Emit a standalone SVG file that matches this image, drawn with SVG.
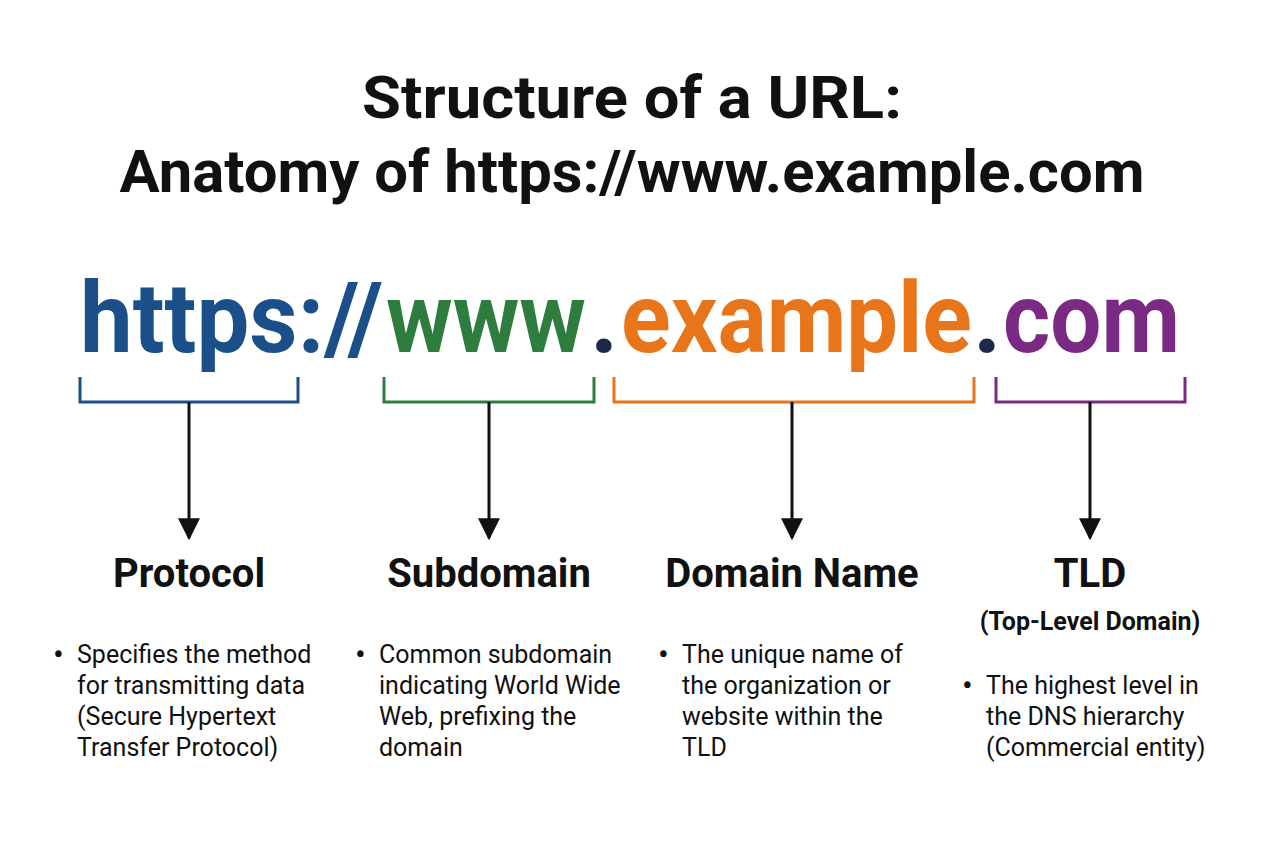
<svg xmlns="http://www.w3.org/2000/svg" width="1264" height="848" viewBox="0 0 1264 848">
<defs>
<marker id="ah" viewBox="0 0 10 10" refX="9" refY="5" markerWidth="22" markerHeight="22" markerUnits="userSpaceOnUse" orient="auto"><path d="M0,0L10,5L0,10z" fill="#111"/></marker>
<style>
text{font-family:Roboto,"Liberation Sans",sans-serif;fill:#111}
.t{font-size:60px;font-weight:bold;text-anchor:middle}
.h{font-size:40px;font-weight:bold;text-anchor:middle}
.b{font-size:25px}
.d{font-size:32px}
.u{font-size:98px;font-weight:bold}
.c1{fill:#1a4f8a}.c2{fill:#2e7d3e}.c3{fill:#e8751a}.c4{fill:#7b2a83}.c0{fill:#1c2a4a}
.br{fill:none;stroke-width:3}
.ar{stroke:#111;stroke-width:3;marker-end:url(#ah)}
</style>
</defs>
<rect width="1264" height="848" fill="#fff"/>
<text class="t" x="632" y="118" textLength="540" lengthAdjust="spacingAndGlyphs">Structure of a URL:</text>
<text class="t" x="632" y="192" textLength="1025" lengthAdjust="spacingAndGlyphs">Anatomy of https://www.example.com</text>
<text class="u c1" x="80" y="352" textLength="303" lengthAdjust="spacingAndGlyphs">https://</text>
<text class="u c2" x="386" y="352" textLength="200" lengthAdjust="spacingAndGlyphs">www</text>
<text class="u c0" x="590" y="352">.</text>
<text class="u c3" x="621" y="352" textLength="351" lengthAdjust="spacingAndGlyphs">example</text>
<text class="u c0" x="973" y="352">.</text>
<text class="u c4" x="1003" y="352" textLength="177" lengthAdjust="spacingAndGlyphs">com</text>
<g id="connectors">
<path class="br" stroke="#1a4f8a" d="M80,377V402H298V377"/>
<path class="br" stroke="#2e7d3e" d="M384,377V402H594V377"/>
<path class="br" stroke="#e8751a" d="M614,377V402H974V377"/>
<path class="br" stroke="#7b2a83" d="M996,377V402H1185V377"/>
<line class="ar" x1="189" y1="402" x2="189" y2="538"/>
<line class="ar" x1="489" y1="402" x2="489" y2="538"/>
<line class="ar" x1="792" y1="402" x2="792" y2="538"/>
<line class="ar" x1="1090" y1="402" x2="1090" y2="538"/>
</g>
<g id="protocol">
<text class="h" x="189" y="587">Protocol</text>
<text class="d" x="53" y="665">•</text>
<text class="b" x="77" y="663">Specifies the method<tspan x="77" dy="31">for transmitting data</tspan><tspan x="77" dy="31">(Secure Hypertext</tspan><tspan x="77" dy="31">Transfer Protocol)</tspan></text>
</g>
<g id="subdomain">
<text class="h" x="489" y="587">Subdomain</text>
<text class="d" x="355" y="665">•</text>
<text class="b" x="379" y="663">Common subdomain<tspan x="379" dy="31">indicating World Wide</tspan><tspan x="379" dy="31">Web, prefixing the</tspan><tspan x="379" dy="31">domain</tspan></text>
</g>
<g id="domain">
<text class="h" x="792" y="587">Domain Name</text>
<text class="d" x="658" y="665">•</text>
<text class="b" x="682" y="663">The unique name of<tspan x="682" dy="31">the organization or</tspan><tspan x="682" dy="31">website within the</tspan><tspan x="682" dy="31">TLD</tspan></text>
</g>
<g id="tld">
<text class="h" x="1090" y="587">TLD</text>
<text x="1090" y="630" font-size="25" font-weight="bold" text-anchor="middle">(Top-Level Domain)</text>
<text class="d" x="962" y="696">•</text>
<text class="b" x="986" y="694">The highest level in<tspan x="986" dy="31">the DNS hierarchy</tspan><tspan x="986" dy="31">(Commercial entity)</tspan></text>
</g>
</svg>
